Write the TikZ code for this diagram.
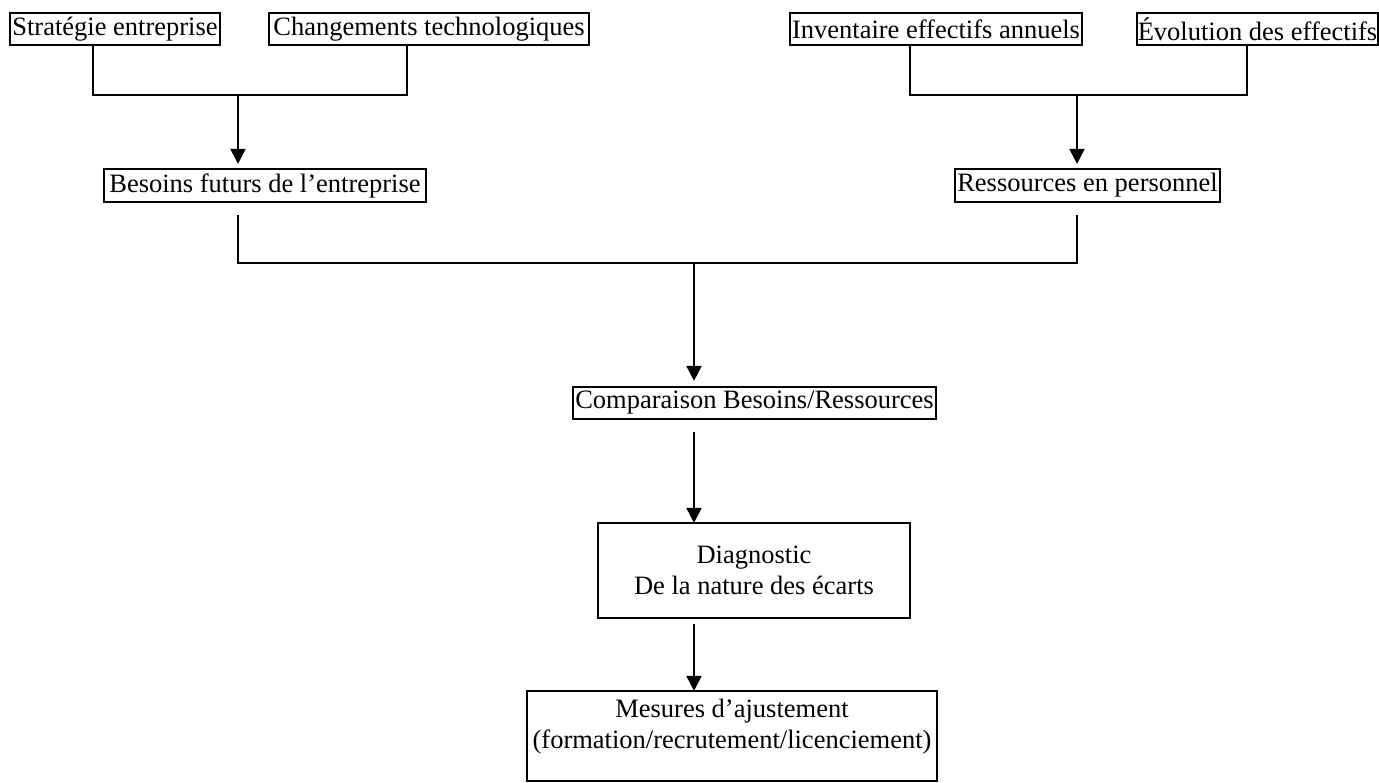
\documentclass[tikz,border=0pt]{standalone}
\usepackage{fontspec}
\setmainfont{Liberation Serif}
\usetikzlibrary{arrows.meta,calc}
\begin{document}
\begin{tikzpicture}[x=1pt,y=-1pt,
  every node/.style={font=\fontsize{26.5}{31}\selectfont},
  box/.style={draw, line width=2.2pt, inner sep=0pt, minimum height=32pt, align=center},
  conn/.style={line width=2pt},
  arr/.style={line width=2pt, -{Triangle[width=15pt,length=15pt]}}]
\useasboundingbox (0,0) rectangle (1379,783);
% top boxes
\node[box, minimum width=210pt] (strat) at (115,29) {Stratégie entreprise};
\node[box, minimum width=320pt] (chg) at (429,29) {Changements technologiques};
\node[box, minimum width=292pt] (inv) at (936,29) {Inventaire effectifs annuels};
\node[box, minimum width=241pt] (evo) at (1257.5,29) {Évolution des effectifs};
% second row
\node[box, minimum width=322pt, minimum height=33pt] (besoins) at (265,185.5) {Besoins futurs de l’entreprise};
\node[box, minimum width=265pt, minimum height=33pt] (ress) at (1087.5,185.5) {Ressources en personnel};
% middle
\node[box, minimum width=363pt, minimum height=32pt] (comp) at (754.5,403) {Comparaison Besoins/Ressources};
\node[box, minimum width=312pt, minimum height=95pt] (diag) at (754,570.5) {Diagnostic\\De la nature des écarts};
\node[box, minimum width=410pt, minimum height=90pt] (mesures) at (732,736) {};
\node[align=center, inner sep=0pt] (mesurestxt) at (732,727) {Mesures d’ajustement\\(formation/recrutement/licenciement)};
% junctions
\coordinate (jL) at (238,95);
\coordinate (jR) at (1077,95);
\coordinate (jM) at (694,263);
% left bracket
\draw[conn] ($(strat.south)+(-22,0)$) |- (jL) -| ($(chg.south)+(-22,0)$);
\draw[arr] (jL) -- ($(jL |- besoins.north)+(0,-4)$);
% right bracket
\draw[conn] ($(inv.south)+(-26,0)$) |- (jR) -| ($(evo.south)+(-10.5,0)$);
\draw[arr] (jR) -- ($(jR |- ress.north)+(0,-4)$);
% big bracket
\draw[conn] ($(besoins.south -| jL)+(0,12)$) |- (jM) -| ($(ress.south -| jR)+(0,12)$);
\draw[arr] (jM) -- ($(jM |- comp.north)+(0,-5)$);
% lower arrows
\draw[arr] ($(comp.south -| jM)+(0,12)$) -- ($(jM |- diag.north)+(0,1)$);
\draw[arr] ($(diag.south -| jM)+(0,5)$) -- ($(jM |- mesures.north)+(0,1)$);
\end{tikzpicture}
\end{document}
